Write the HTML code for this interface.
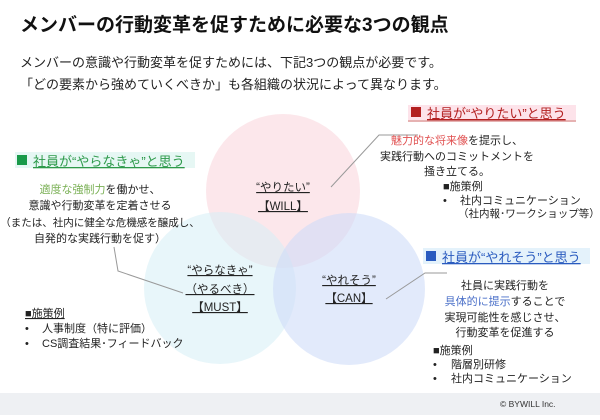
<!DOCTYPE html>
<html><head><meta charset="utf-8"><style>
body{margin:0;width:600px;height:415px;overflow:hidden;background:#fff;font-family:"Liberation Sans","Noto Sans CJK JP",sans-serif;}
svg text{font-family:"Liberation Sans","Noto Sans CJK JP",sans-serif;}
</style></head><body>
<svg width="600" height="415" viewBox="0 0 600 415" xmlns="http://www.w3.org/2000/svg">
<rect x="0" y="393" width="600" height="22" fill="#eef0f3"/>
<text x="20" y="31" font-size="19" font-weight="bold" fill="#111">メンバーの行動変革を促すために必要な3つの観点</text>
<text x="20" y="67" font-size="13" fill="#222">メンバーの意識や行動変革を促すためには、下記3つの観点が必要です。</text>
<text x="20" y="89" font-size="13" fill="#222">「どの要素から強めていくべきか」も各組織の状況によって異なります。</text>

<circle cx="283" cy="191" r="77" fill="#f9d3da" opacity="0.55"/>
<circle cx="220" cy="288" r="76" fill="#d6eef6" opacity="0.55"/>
<circle cx="349" cy="289" r="76" fill="#cfdcf8" opacity="0.6"/>

<g fill="none" stroke="#999" stroke-width="1">
<polyline points="331,187 379,135 418,135"/>
<polyline points="114,247 118,271 183,293"/>
<polyline points="386,299 425,273 447,273"/>
</g>

<g font-size="11.5" fill="#222" text-anchor="middle" text-decoration="underline">
<text x="283" y="191">“やりたい”</text>
<text x="283" y="210">【WILL】</text>
<text x="220" y="274">“やらなきゃ”</text>
<text x="220" y="293">（やるべき）</text>
<text x="220" y="311">【MUST】</text>
<text x="349" y="284">“やれそう”</text>
<text x="349" y="302">【CAN】</text>
</g>

<!-- red -->
<rect x="408" y="105" width="168" height="15" fill="#fde3ea"/>
<rect x="411" y="107" width="10" height="10" fill="#b32020"/>
<text x="427" y="118" font-size="13" fill="#b32020" text-decoration="underline">社員が“やりたい”と思う</text>
<line x1="408" y1="121" x2="576" y2="121" stroke="#c66" stroke-width="1"/>
<g font-size="11" fill="#222" text-anchor="middle">
<text x="457" y="144"><tspan fill="#e05050">魅力的な将来像</tspan>を提示し、</text>
<text x="457" y="160">実践行動へのコミットメントを</text>
<text x="457" y="175">掻き立てる。</text>
</g>
<g font-size="11" fill="#222">
<text x="443" y="190">■施策例</text>
<text x="443" y="204">•</text><text x="460" y="204">社内コミュニケーション</text>
<text x="458" y="217" font-size="10.5">（社内報･ワークショップ等）</text>
</g>

<!-- green -->
<rect x="15" y="152" width="180" height="16" fill="#e6f7f4"/>
<rect x="17" y="155" width="10" height="10" fill="#1a9a4a"/>
<text x="33" y="166" font-size="13" fill="#2d9a4a" text-decoration="underline">社員が“やらなきゃ”と思う</text>
<g font-size="11" fill="#222" text-anchor="middle">
<text x="100" y="193"><tspan fill="#7ab055">適度な強制力</tspan>を働かせ、</text>
<text x="100" y="209">意識や行動変革を定着させる</text>
<text x="100" y="226" font-size="10.5">（または、社内に健全な危機感を醸成し、</text>
<text x="100" y="242">自発的な実践行動を促す）</text>
</g>
<g font-size="11" fill="#222">
<text x="25" y="317" text-decoration="underline">■施策例</text>
<text x="25" y="332">•</text><text x="42" y="332">人事制度（特に評価）</text>
<text x="25" y="347">•</text><text x="42" y="347">CS調査結果･フィードバック</text>
</g>

<!-- blue -->
<rect x="423" y="248" width="167" height="16" fill="#e4f2fb"/>
<rect x="426" y="251" width="10" height="10" fill="#2a5bbf"/>
<text x="442" y="262" font-size="13" fill="#2a5bbf" text-decoration="underline">社員が“やれそう”と思う</text>
<g font-size="11" fill="#222" text-anchor="middle">
<text x="505" y="289">社員に実践行動を</text>
<text x="505" y="305"><tspan fill="#4a6fc8">具体的に提示</tspan>することで</text>
<text x="505" y="321">実現可能性を感じさせ、</text>
<text x="505" y="336">行動変革を促進する</text>
</g>
<g font-size="11" fill="#222">
<text x="433" y="354">■施策例</text>
<text x="433" y="368">•</text><text x="451" y="368">階層別研修</text>
<text x="433" y="382">•</text><text x="451" y="382">社内コミュニケーション</text>
</g>

<text x="500" y="407" font-size="8.5" fill="#333">© BYWILL Inc.</text>
</svg>
</body></html>
